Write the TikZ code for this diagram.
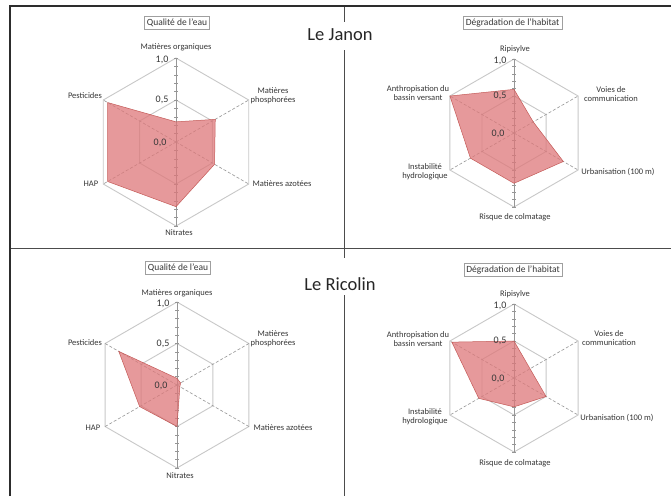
\documentclass[tikz,border=0pt]{standalone}
\usepackage{fontspec}
\setmainfont{Carlito}
\usetikzlibrary{calc}
\definecolor{gridgray}{RGB}{200,200,200}
\definecolor{spokegray}{RGB}{150,150,150}
\definecolor{datafill}{RGB}{222,120,122}
\definecolor{dataline}{RGB}{192,80,77}
\definecolor{framegray}{RGB}{45,45,45}
\definecolor{textgray}{RGB}{55,55,55}
\tikzset{
  gridline/.style={draw=gridgray, line width=0.9pt},
  spoke/.style={draw=spokegray, line width=0.6pt, dash pattern=on 3pt off 2pt},
  mainaxis/.style={draw=spokegray, line width=0.6pt},
  datapoly/.style={fill=datafill, fill opacity=0.75, draw=dataline, draw opacity=0.9, line width=0.5pt},
  axlabel/.style={font=\fontsize{8.5}{9}\selectfont, text=textgray, inner sep=0.5pt, align=center},
  ticklabel/.style={font=\fontsize{10}{11}\selectfont, text=textgray, inner sep=0.5pt},
  titlebox/.style={draw=gray!75, fill=white, font=\fontsize{9.5}{10}\selectfont, inner xsep=2.5pt, inner ysep=1.5pt, text=textgray, minimum height=13pt},
  rivername/.style={font=\fontsize{18.5}{20}\selectfont, text=black!85, inner sep=1pt},
  framerule/.style={draw=framegray, line width=1.8pt},
  divider/.style={draw=gray!60!black, line width=0.9pt},
}
% #1 prefix, #2 cx, #3 cy, #4 R, #5 six values
\newcommand\radarplot[5]{%
  \begin{scope}[shift={(#2,#3)}]
    \coordinate (#1c) at (0,0);
    \foreach \k in {0,...,5}{%
      \coordinate (#1o\k) at ({-90+60*\k}:#4);
      \coordinate (#1h\k) at ({-90+60*\k}:{0.5*#4});
    }
    \draw[gridline] (#1o0) -- (#1o1) -- (#1o2) -- (#1o3) -- (#1o4) -- (#1o5) -- cycle;
    \draw[gridline] (#1h0) -- (#1h1) -- (#1h2) -- (#1h3) -- (#1h4) -- (#1h5) -- cycle;
    \draw[spoke] (#1c) -- (#1o1);
    \draw[spoke] (#1c) -- (#1o2);
    \draw[spoke] (#1c) -- (#1o4);
    \draw[spoke] (#1c) -- (#1o5);
    \draw[mainaxis] (#1o0) -- (#1o3);
    \foreach \t in {1,...,10}{%
      \draw[mainaxis] (-2,{-\t*#4/10}) -- ++(4,0);
      \draw[mainaxis] (-2,{\t*#4/10}) -- ++(4,0);
    }
    \foreach \v [count=\k from 0] in {#5}{%
      \coordinate (#1d\k) at ({-90+60*\k}:{\v*#4});
    }
    \draw[datapoly] (#1d0) -- (#1d1) -- (#1d2) -- (#1d3) -- (#1d4) -- (#1d5) -- cycle;
    \node[ticklabel] (#1t10) at (-14,{-#4+2}) {1,0};
    \node[ticklabel] (#1t05) at (-14,{-0.5*#4}) {0,5};
    \node[ticklabel] (#1t00) at (-16,1) {0,0};
  \end{scope}}
\begin{document}
\begin{tikzpicture}[x=1pt,y=-1pt]
\useasboundingbox (0,0) rectangle (671,496);
\fill[white] (0,0) rectangle (671,496);
% frame and dividers
\draw[divider] (10,248) -- (671,248);
\draw[divider] (344,6) -- (344,22);
\draw[divider] (344,50) -- (344,258);
\draw[divider] (344,295) -- (344,496);
\draw[framerule] (10,496) -- (10,6) -- (671,6);

% charts
\radarplot{A}{176}{142}{84}{0.24,0.54,0.53,0.77,0.94,0.94}
\radarplot{B}{514}{133}{74}{0.59,0.30,0.77,0.68,0.68,1.0}
\radarplot{C}{177}{385}{83}{0.08,0.05,0.04,0.50,0.52,0.81}
\radarplot{D}{514}{378}{74}{0.50,0.25,0.50,0.39,0.55,0.97}

% titles
\node[titlebox] (tA) at (177,22.5) {Qualité de l'eau};
\node[titlebox] (tB) at (512.5,23) {Dégradation de l'habitat};
\node[titlebox] (tC) at (178,268) {Qualité de l'eau};
\node[titlebox] (tD) at (513,270) {Dégradation de l'habitat};
\node[rivername] (rJ) at (340,35) {Le Janon};
\node[rivername] (rR) at (340,284) {Le Ricolin};

% labels top-left
\node[axlabel] (Amo) at (176,47) {Matières organiques};
\node[axlabel] (Amp) at (273,96) {Matières\\phosphorées};
\node[axlabel] (Ama) at (282,184) {Matières azotées};
\node[axlabel] (Ani) at (179,233) {Nitrates};
\node[axlabel] (Aha) at (91,184) {HAP};
\node[axlabel] (Ape) at (85,96) {Pesticides};
% labels top-right
\node[axlabel] (Bri) at (515,49) {Ripisylve};
\node[axlabel] (Bvc) at (611,94.5) {Voies de\\communication};
\node[axlabel] (Bur) at (618,172) {Urbanisation (100 m)};
\node[axlabel] (Brc) at (515,217) {Risque de colmatage};
\node[axlabel] (Bih) at (425,172) {Instabilité\\hydrologique};
\node[axlabel] (Ban) at (418,93) {Anthropisation du\\bassin versant};
% labels bottom-left
\node[axlabel] (Cmo) at (177,293) {Matières organiques};
\node[axlabel] (Cmp) at (273,339) {Matières\\phosphorées};
\node[axlabel] (Cma) at (283,428) {Matières azotées};
\node[axlabel] (Cni) at (180,476) {Nitrates};
\node[axlabel] (Cha) at (93,428) {HAP};
\node[axlabel] (Cpe) at (85,343) {Pesticides};
% labels bottom-right
\node[axlabel] (Dri) at (515,294) {Ripisylve};
\node[axlabel] (Dvc) at (609,338.5) {Voies de\\communication};
\node[axlabel] (Dur) at (617,418) {Urbanisation (100 m)};
\node[axlabel] (Drc) at (515,463) {Risque de colmatage};
\node[axlabel] (Dih) at (425,416.5) {Instabilité\\hydrologique};
\node[axlabel] (Dan) at (418,339) {Anthropisation du\\bassin versant};
\end{tikzpicture}
\end{document}
